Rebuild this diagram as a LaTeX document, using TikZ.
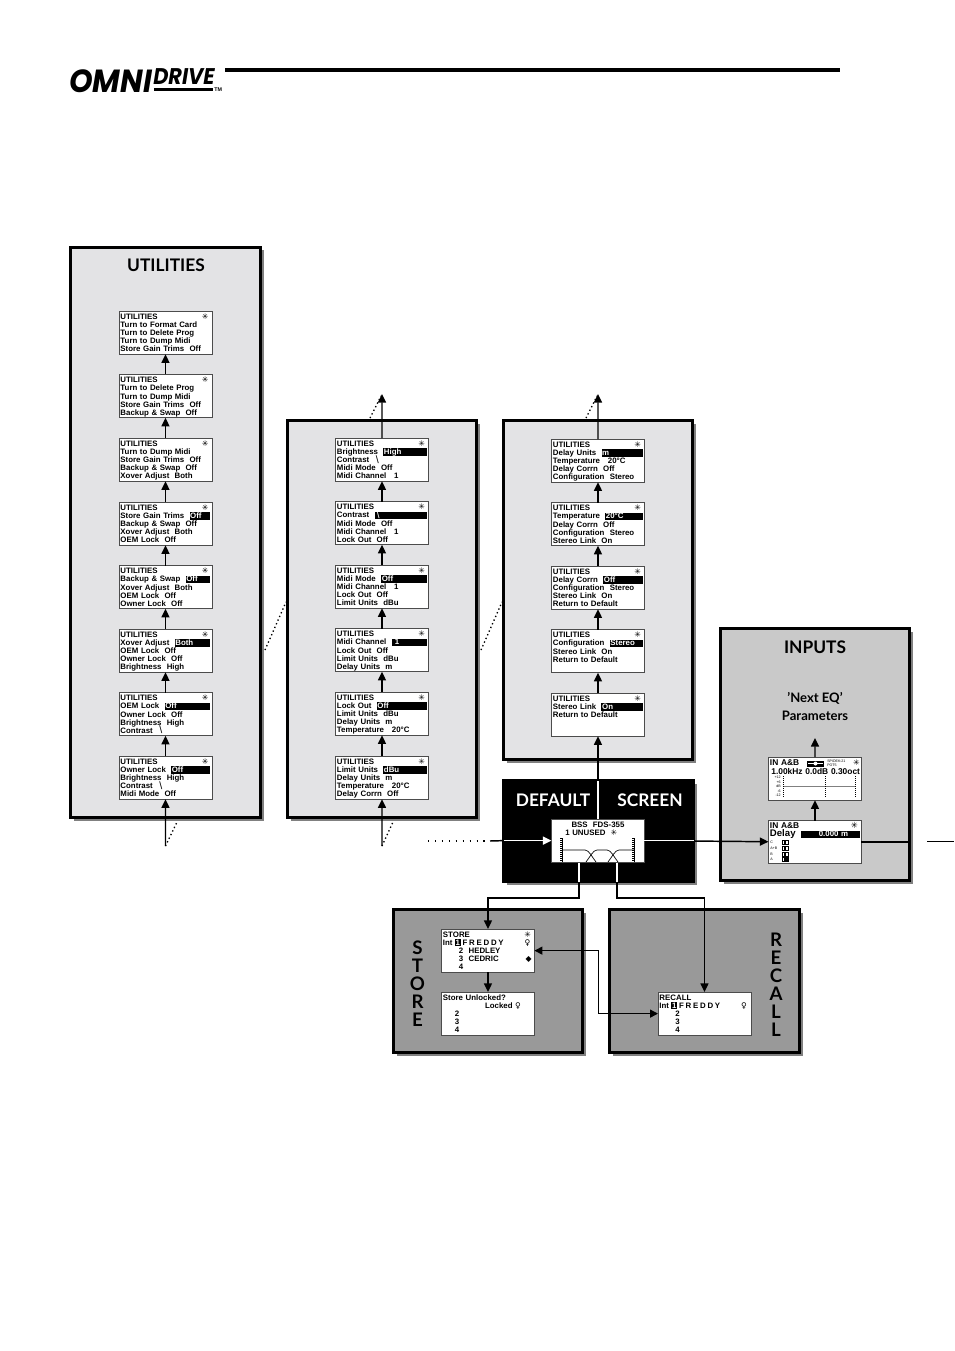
\documentclass[tikz,border=0pt]{standalone}
\usepackage{fontspec}
\setmainfont{Lato}
\newfontfamily\lcdfont{Liberation Sans}
\newfontfamily\logofont{Poppins}
\newfontfamily\glyphfont{DejaVu Sans}
\usetikzlibrary{arrows.meta, shadows}
\definecolor{UtilGray}{RGB}{227, 227, 229}
\definecolor{InputGray}{RGB}{201, 201, 201}
\definecolor{StoreGray}{RGB}{153, 153, 153}
\newlength\scrw
\setlength\scrw{67.5pt}
\newcommand\lcdtext{\fontsize{5.9}{6.1}\selectfont\lcdfont\bfseries\lineskiplimit=-10pt\relax}
\newcommand\lcdbig{\fontsize{6.3}{6.1}\selectfont}
\newcommand\topstrut{\rule{0pt}{6.2pt}}
\newcommand\scrstar{{\glyphfont\mdseries ✳}}
\newcommand\scrkey{{\glyphfont\bfseries ♀}}
\newcommand\kv[2]{#1~~#2}
\newcommand\backsl{\kern 1pt\raisebox{-0.5pt}{\fontsize{8}{6}\selectfont\mdseries\textbackslash}}
\newcommand\freddy{F\kern1.3pt R\kern1.3pt E\kern1.3pt D\kern1.3pt D\kern1.3pt Y}
% one line with the black selection bar
\newcommand\selline[2]{\makebox[\scrw][l]{\setbox0=\hbox{#1~~}\copy0\rlap{\vrule width\dimexpr\scrw-\wd0\relax height 4.6pt depth 1pt}\kern 0.5pt\textcolor{white}{#2}\hfill}}
\newcommand\starline[1]{\makebox[\scrw][l]{#1\hfill\scrstar\kern 1.5pt}}
\newcommand\utilscr[4]{\starline{UTILITIES}\topstrut\\#1\strut\\#2\strut\\#3\strut\\#4\strut}
\newcommand\numbox[1]{{\fboxsep=.5pt\colorbox{black}{\textcolor{white}{#1}}}}

\begin{document}
\begin{tikzpicture}[
    x=0.75pt, y=-0.75pt,
    % Define styles for the elements
    panel/.style={
        rectangle,
        draw=black,
        fill=#1,
        line width=2.25pt,
        anchor=north west,
        outer sep=0pt,
        drop shadow={shadow xshift=2.25pt, shadow yshift=-2.25pt, fill=black!50, opacity=1}
    },
    screen/.style={
        rectangle,
        draw=black!70,
        fill=white,
        line width=0.6pt,
        anchor=north west,
        outer sep=0pt,
        text width=\scrw,
        align=left,
        inner xsep=1.1pt,
        inner ysep=0pt,
        minimum height=32.25pt,
        font=\lcdtext
    },
    paneltitle/.style={font=\fontsize{13}{16}\selectfont\bfseries},
    columntitle/.style={font=\fontsize{14}{13.5}\selectfont\bfseries, align=center},
    tinytext/.style={font=\fontsize{2.7}{3.2}\selectfont\lcdfont, inner sep=0pt},
    flow/.style={-{Triangle[width=6pt, length=6.5pt]}, line width=1.1pt},
    hint/.style={dotted, line width=1pt}
]
    \useasboundingbox (0,0) rectangle (954,1351);

    % --- Logo ---
    \node[anchor=west, inner sep=0pt, font=\fontsize{24}{24}\selectfont\logofont\bfseries\itshape] (omni) at (69,81) {\scalebox{0.94}[1]{OMNI}};
    \node[anchor=west, inner sep=0pt, font=\fontsize{17}{18}\selectfont\logofont\bfseries\itshape] (drive) at (153,76.5) {\scalebox{0.92}[1]{DRIVE}};
    \node[anchor=west, inner sep=0pt, font=\fontsize{4}{4}\selectfont\lcdfont\bfseries] (tm) at (214,90) {TM};
    \fill (154,88) rectangle (213,91);
    \fill (225,68) rectangle (840,72);

    % --- Panels ---
    \node[panel=UtilGray, minimum width=142.5pt, minimum height=427.5pt] (util) at (70.5,247.5) {};
    \node[panel=UtilGray, minimum width=141.75pt, minimum height=297.75pt] (utilb) at (287.5,420.5) {};
    \node[panel=UtilGray, minimum width=141.75pt, minimum height=254.6pt] (utilc) at (503.5,420.5) {};
    \node[panel=InputGray, minimum width=141.75pt, minimum height=189pt] (inp) at (720.5,628.5) {};
    \node[panel=black, minimum width=142.5pt, minimum height=75.75pt] (deflt) at (503.5,780.5) {};
    \node[panel=StoreGray, minimum width=141.75pt, minimum height=107.25pt] (store) at (393.5,909.5) {};
    \node[panel=StoreGray, minimum width=142.5pt, minimum height=107.25pt] (recall) at (609.5,909.5) {};

    % --- Panel titles ---
    \node[paneltitle] (utiltitle) at (166,265.5) {UTILITIES};
    \node[paneltitle] (inptitle) at (815,647) {INPUTS};
    \node[font=\fontsize{9.8}{14}\selectfont\bfseries, align=center] (nexteq) at (815,706.5) {'Next EQ'\\Parameters};
    \node[paneltitle, text=white] (defa) at (553,800) {DEFAULT};
    \node[paneltitle, text=white] (defb) at (650,800) {SCREEN};
    \node[columntitle] (storetitle) at (417.5,984) {S\\T\\O\\R\\E};
    \node[columntitle] (recalltitle) at (776,985) {R\\E\\C\\A\\L\\L};

    % --- Column 1 ---
    \node[screen] (ua) at (119,311) {\utilscr{Turn to Format Card}{Turn to Delete Prog}{Turn to Dump Midi}{\kv{Store Gain Trims}{Off}}};
    \node[screen] (ub) at (119,374.5) {\utilscr{Turn to Delete Prog}{Turn to Dump Midi}{\kv{Store Gain Trims}{Off}}{\kv{Backup \& Swap}{Off}}};
    \node[screen] (uc) at (119,438) {\utilscr{Turn to Dump Midi}{\kv{Store Gain Trims}{Off}}{\kv{Backup \& Swap}{Off}}{\kv{Xover Adjust}{Both}}};
    \node[screen] (ud) at (119,502) {\utilscr{\selline{Store Gain Trims}{Off}}{\kv{Backup \& Swap}{Off}}{\kv{Xover Adjust}{Both}}{\kv{OEM Lock}{Off}}};
    \node[screen] (ue) at (119,565.5) {\utilscr{\selline{Backup \& Swap}{Off}}{\kv{Xover Adjust}{Both}}{\kv{OEM Lock}{Off}}{\kv{Owner Lock}{Off}}};
    \node[screen] (uf) at (119,629) {\utilscr{\selline{Xover Adjust}{Both}}{\kv{OEM Lock}{Off}}{\kv{Owner Lock}{Off}}{\kv{Brightness}{High}}};
    \node[screen] (ug) at (119,692.5) {\utilscr{\selline{OEM Lock}{Off}}{\kv{Owner Lock}{Off}}{\kv{Brightness}{High}}{\kv{Contrast}{\backsl}}};
    \node[screen] (uh) at (119,756) {\utilscr{\selline{Owner Lock}{Off}}{\kv{Brightness}{High}}{\kv{Contrast}{\backsl}}{\kv{Midi Mode}{Off}}};

    % --- Column 2 ---
    \node[screen] (va) at (335.5,438) {\utilscr{\selline{Brightness}{High}}{\kv{Contrast}{\backsl}}{\kv{Midi Mode}{Off}}{\kv{Midi Channel}{\ 1}}};
    \node[screen] (vb) at (335.5,501.5) {\utilscr{\selline{Contrast}{\backsl}}{\kv{Midi Mode}{Off}}{\kv{Midi Channel}{\ 1}}{\kv{Lock Out}{Off}}};
    \node[screen] (vc) at (335.5,565) {\utilscr{\selline{Midi Mode}{Off}}{\kv{Midi Channel}{\ 1}}{\kv{Lock Out}{Off}}{\kv{Limit Units}{dBu}}};
    \node[screen] (vd) at (335.5,628.5) {\utilscr{\selline{Midi Channel}{\ 1}}{\kv{Lock Out}{Off}}{\kv{Limit Units}{dBu}}{\kv{Delay Units}{m}}};
    \node[screen] (ve) at (335.5,692) {\utilscr{\selline{Lock Out}{Off}}{\kv{Limit Units}{dBu}}{\kv{Delay Units}{m}}{\kv{Temperature}{\ 20°C}}};
    \node[screen] (vf) at (335.5,756) {\utilscr{\selline{Limit Units}{dBu}}{\kv{Delay Units}{m}}{\kv{Temperature}{\ 20°C}}{\kv{Delay Corrn}{Off}}};

    % --- Column 3 ---
    \node[screen] (wa) at (551.5,439) {\utilscr{\selline{Delay Units}{m}}{\kv{Temperature}{\ 20°C}}{\kv{Delay Corrn}{Off}}{\kv{Configuration}{Stereo}}};
    \node[screen] (wb) at (551.5,502.5) {\utilscr{\selline{Temperature}{20°C}}{\kv{Delay Corrn}{Off}}{\kv{Configuration}{Stereo}}{\kv{Stereo Link}{On}}};
    \node[screen] (wc) at (551.5,566) {\utilscr{\selline{Delay Corrn}{Off}}{\kv{Configuration}{Stereo}}{\kv{Stereo Link}{On}}{Return to Default}};
    \node[screen] (wd) at (551.5,629.5) {\utilscr{\selline{Configuration}{Stereo}}{\kv{Stereo Link}{On}}{Return to Default}{\mbox{}}};
    \node[screen] (we) at (551.5,693) {\utilscr{\selline{Stereo Link}{On}}{Return to Default}{\mbox{}}{\mbox{}}};

    % --- Default screen ---
    \node[screen, align=center] (ds) at (551.5,819) {BSS~~FDS-355\topstrut\\1 UNUSED~~\scrstar\kern 10pt\strut\\\mbox{}\strut\\\mbox{}\strut\\\mbox{}\strut};
    \draw[line width=0.5pt] (562,850) -- (585,850) .. controls (589,850) and (592,857) .. (596,862);
    \draw[line width=0.5pt] (586,862) .. controls (590,857) and (593,850) .. (597,850) -- (607,850) .. controls (611,850) and (614,857) .. (618,862);
    \draw[line width=0.5pt] (608,862) .. controls (612,857) and (615,850) .. (619,850) -- (634,850);
    \foreach \s in {562,634} {
        \draw[line width=0.4pt] (\s,838) -- (\s,862);
        \draw[line width=1pt, dash pattern=on 0.5pt off 1pt] (\s-1,838) -- (\s-1,862);
    }

    % --- Inputs screens ---
    \node[screen] (eq) at (768.5,757) {{\lcdbig IN A\&B}\topstrut\\\mbox{}\strut\\\mbox{}\strut\\\mbox{}\strut\\\mbox{}\strut};
    \node[inner sep=0pt, text width=\scrw, font=\lcdtext\lcdbig] (eqvals) at (815,771) {\makebox[\scrw][l]{\kern 1pt 1.00kHz\hfill 0.0dB~0.30oct}};
    \node[anchor=east, inner sep=0pt, font=\lcdtext] (eqstar) at (860,763) {\scrstar};
    \fill (807,760.5) rectangle (824,766.5);
    \draw[white, line width=0.5pt] (808,763.5) -- (823,763.5);
    \fill[white] (815.5,763.5) circle (2);
    \node[tinytext, anchor=west, align=left] (eqinfo) at (827,763.5) {SPIDEK:21\\POT5};
    \draw[black!50, line width=1.2pt] (783,786.5) -- (855,786.5);
    \foreach \s in {783,825,855}
        \draw[densely dotted, line width=0.5pt] (\s,776) -- (\s,797);
    \foreach \n/\t/\y in {a/+12/777.5,b/+6/782,c/dB/786.5,d/-6/791,e/-12/795.5}
        \node[tinytext, anchor=east] (eqs\n) at (781,\y) {\t};

    \node[screen] (dly) at (768.5,820.5) {{\lcdbig\starline{IN A\&B}}\topstrut\\\fontsize{7.2}{6.1}\selectfont\selline{Delay}{\hspace{13pt}\lcdtext 0.000 m}\strut\\\mbox{}\strut\\\mbox{}\strut\\\mbox{}\strut};
    \foreach \n/\t/\y in {a/C/842,b/A+B/848,c/B/854,d/A/859.5} {
        \node[tinytext, anchor=west] (dl\n) at (770,\y) {\t};
        \draw[line width=0.4pt] (782,\y-2) rectangle (784.5,\y+2);
        \draw[line width=0.4pt] (785,\y-2) rectangle (788,\y+2);
    }
    \fill (785,857.5) rectangle (788.5,861.5);

    % --- Store and Recall screens ---
    \node[screen] (st) at (441.5,929) {\starline{STORE}\topstrut\\\makebox[\scrw][l]{Int\kern 1.8pt\numbox{1}\kern 1.5pt\freddy\hfill\scrkey\kern 2pt}\strut\\\hspace*{12pt}2~~HEDLEY\strut\\\makebox[\scrw][l]{\hspace*{12pt}3~~CEDRIC\hfill{\glyphfont ◆}\kern 1pt}\strut\\\hspace*{12pt}4\strut};
    \node[screen] (su) at (441.5,992) {Store Unlocked?\topstrut\\\makebox[\scrw][l]{\hfill Locked~\scrkey\kern 9pt}\strut\\\hspace*{9pt}2\strut\\\hspace*{9pt}3\strut\\\hspace*{9pt}4\strut};
    \node[screen] (rc) at (658,992) {RECALL\topstrut\\\makebox[\scrw][l]{Int\kern 1.8pt\numbox{1}\kern 1.5pt\freddy\hfill\scrkey\kern 2pt}\strut\\\hspace*{12pt}2\strut\\\hspace*{12pt}3\strut\\\hspace*{12pt}4\strut};

    % --- Free ends ---
    \coordinate (uin) at (165.5,846);
    \coordinate (vin) at (382,846);
    \coordinate (vout) at (382,394);
    \coordinate (wout) at (598,394);
    \coordinate (eqout) at (815,738);
    \coordinate (dsin) at (428,841);
    \coordinate (dsmid) at (490,841);
    \coordinate (outa) at (927,841.5);
    \coordinate (outb) at (954,841.5);
    \coordinate (dsl) at (579,863);
    \coordinate (dsr) at (617,863);
    \coordinate (dsld) at (579,881.5);
    \coordinate (dsrd) at (617,881.5);

    % --- Connections ---
    \foreach \a/\b in {ub/ua, uc/ub, ud/uc, ue/ud, uf/ue, ug/uf, uh/ug,
                       vb/va, vc/vb, vd/vc, ve/vd, vf/ve,
                       wb/wa, wc/wb, wd/wc, we/wd, ds/we,
                       dly/eq, st/su, uin/uh, vin/vf, va/vout, wa/wout, eq/eqout}
        \draw[flow] (\a) -- (\b);
    \draw[flow] (ds.east) -- (dly);
    \draw[line width=1.1pt] (dly.east) -- (dly.east -| inp.east);
    \draw[line width=1.4pt] (outa) -- (outb);
    \draw[flow] (dsl) -- ++(0,35) -| (st.north);
    \draw[flow] (dsr) -- ++(0,35) -| (rc.north);
    \draw[{Triangle[width=6pt, length=6pt]}-{Triangle[width=6pt, length=6pt]}, line width=1pt] (st.east) -- ++(64,0) |- (rc.west);

    % White where the lines cross the black panel
    \draw[line width=1.1pt] (dsmid) -- (deflt.west |- ds.west);
    \draw[white, flow] (deflt.west |- ds.west) -- (ds.west);
    \draw[white, line width=1.1pt] (ds.north) -- (ds.north |- deflt.north);
    \draw[white, line width=1.1pt] (ds.east) -- (deflt.east |- ds.east);
    \draw[white, line width=1.1pt] (dsl) -- (dsld);
    \draw[white, line width=1.1pt] (dsr) -- (dsrd);

    % Dotted hints
    \coordinate (h1a) at (165.5,846);
    \coordinate (h1b) at (177,822);
    \coordinate (h2a) at (382,846);
    \coordinate (h2b) at (393,822);
    \coordinate (h3a) at (370,418);
    \coordinate (h3b) at (381,396);
    \coordinate (h4a) at (586,418);
    \coordinate (h4b) at (597,396);
    \coordinate (h5a) at (265,650);
    \coordinate (h5b) at (286,602);
    \coordinate (h6a) at (481,650);
    \coordinate (h6b) at (502,602);
    \foreach \a/\b in {h1a/h1b, h2a/h2b, h3a/h3b, h4a/h4b, h5a/h5b, h6a/h6b}
        \draw[hint] (\a) -- (\b);
    \draw[line width=0.9pt, dash pattern=on 1pt off 4.2pt] (dsin) -- (dsmid);
\end{tikzpicture}
\end{document}
